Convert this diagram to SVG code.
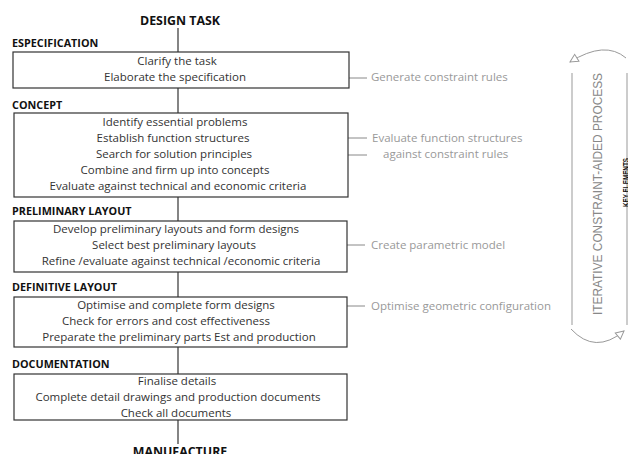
<svg xmlns="http://www.w3.org/2000/svg" width="628" height="454" viewBox="0 0 628 454">
<defs>
<style>
.hdr{font-family:"Open Sans","Noto Sans",sans-serif;font-weight:bold;font-size:10.8px;fill:#111}
.title{font-family:"Open Sans","Noto Sans",sans-serif;font-weight:bold;font-size:12.4px;fill:#111;text-anchor:middle}
.box{fill:#fff;stroke:#333;stroke-width:1.2}
.t{font-family:"Open Sans","Noto Sans",sans-serif;font-size:11.5px;fill:#333;text-anchor:middle}
.g{font-family:"Open Sans","Noto Sans",sans-serif;font-size:11.5px;fill:#999}
.flow{stroke:#333;stroke-width:1.2;fill:none}
.lead{stroke:#888;stroke-width:1;fill:none}
.side{stroke:#999;stroke-width:1;fill:none}
</style>
<marker id="open" viewBox="0 0 10 10" refX="9" refY="5" markerWidth="10" markerHeight="10" orient="auto" markerUnits="userSpaceOnUse">
<path d="M1,1 L9,5 L1,9 Z" fill="#fff" stroke="#999" stroke-width="1"/>
</marker>
</defs>
<rect width="628" height="454" fill="#fff"/>

<g id="connectors">
<line class="flow" x1="178" y1="28" x2="178" y2="52"/>
<line class="flow" x1="178" y1="88" x2="178" y2="113"/>
<line class="flow" x1="178" y1="197" x2="178" y2="221"/>
<line class="flow" x1="178" y1="272" x2="178" y2="297"/>
<line class="flow" x1="178" y1="347" x2="178" y2="374"/>
<line class="flow" x1="178" y1="420" x2="178" y2="444"/>
<line class="lead" x1="259" y1="78" x2="367" y2="78"/>
<line class="lead" x1="266" y1="138" x2="367" y2="138"/>
<line class="lead" x1="266" y1="155" x2="367" y2="155"/>
<line class="lead" x1="264" y1="245" x2="365" y2="245"/>
<line class="lead" x1="273" y1="306" x2="365" y2="306"/>
</g>

<g id="design-task"><text class="title" x="180" y="25">DESIGN TASK</text></g>

<g id="especification">
<text class="hdr" x="12" y="47">ESPECIFICATION</text>
<rect class="box" x="13" y="52" width="336" height="36"/>
<text class="t" x="177" y="65">Clarify the task</text>
<text class="t" x="175" y="81">Elaborate the specification</text>
</g>

<g id="concept">
<text class="hdr" x="12" y="109">CONCEPT</text>
<rect class="box" x="14" y="113" width="334" height="84"/>
<text class="t" x="175" y="126">Identify essential problems</text>
<text class="t" x="173" y="142">Establish function structures</text>
<text class="t" x="174" y="158">Search for solution principles</text>
<text class="t" x="175" y="174">Combine and firm up into concepts</text>
<text class="t" x="178" y="190">Evaluate against technical and economic criteria</text>
</g>

<g id="preliminary-layout">
<text class="hdr" x="12" y="215">PRELIMINARY LAYOUT</text>
<rect class="box" x="14" y="221" width="333" height="51"/>
<text class="t" x="176" y="233">Develop preliminary layouts and form designs</text>
<text class="t" x="174" y="249">Select best preliminary layouts</text>
<text class="t" x="181" y="265">Refine /evaluate against technical /economic criteria</text>
</g>

<g id="definitive-layout">
<text class="hdr" x="12" y="291">DEFINITIVE LAYOUT</text>
<rect class="box" x="14" y="297" width="333" height="50"/>
<text class="t" x="176" y="309">Optimise and complete form designs</text>
<text class="t" x="166" y="325">Check for errors and cost effectiveness</text>
<text class="t" x="179" y="341">Preparate the preliminary parts Est and production</text>
</g>

<g id="documentation">
<text class="hdr" x="12" y="368">DOCUMENTATION</text>
<rect class="box" x="14" y="374" width="333" height="46"/>
<text class="t" x="177" y="385">Finalise details</text>
<text class="t" x="178" y="401">Complete detail drawings and production documents</text>
<text class="t" x="176" y="417">Check all documents</text>
</g>

<g id="manufacture"><text class="title" x="180" y="456">MANUFACTURE</text></g>

<g id="labels">
<text class="g" x="371" y="81">Generate constraint rules</text>
<text class="g" x="372" y="142">Evaluate function structures</text>
<text class="g" x="383" y="158">against constraint rules</text>
<text class="g" x="371" y="249">Create parametric model</text>
<text class="g" x="371" y="310">Optimise geometric configuration</text>
</g>

<g id="iterative-process">
<line class="side" x1="572" y1="73" x2="572" y2="325"/>
<line class="side" x1="627" y1="73" x2="627" y2="325"/>
<path class="side" d="M626,58 Q605,40 570,62" marker-end="url(#open)"/>
<path class="side" d="M571,329 Q595,355 624,331" marker-end="url(#open)"/>
<text transform="translate(602,315) rotate(-90)" font-family="Liberation Sans, Arial, sans-serif" font-size="12.5" fill="#888" textLength="242" lengthAdjust="spacingAndGlyphs">ITERATIVE CONSTRAINT-AIDED PROCESS</text>
<text transform="translate(628.5,207) rotate(-90)" font-family="Liberation Sans, Arial, sans-serif" font-size="9" font-weight="bold" fill="#111" textLength="49" lengthAdjust="spacingAndGlyphs">KEY ELEMENTS</text>
</g>
</svg>
